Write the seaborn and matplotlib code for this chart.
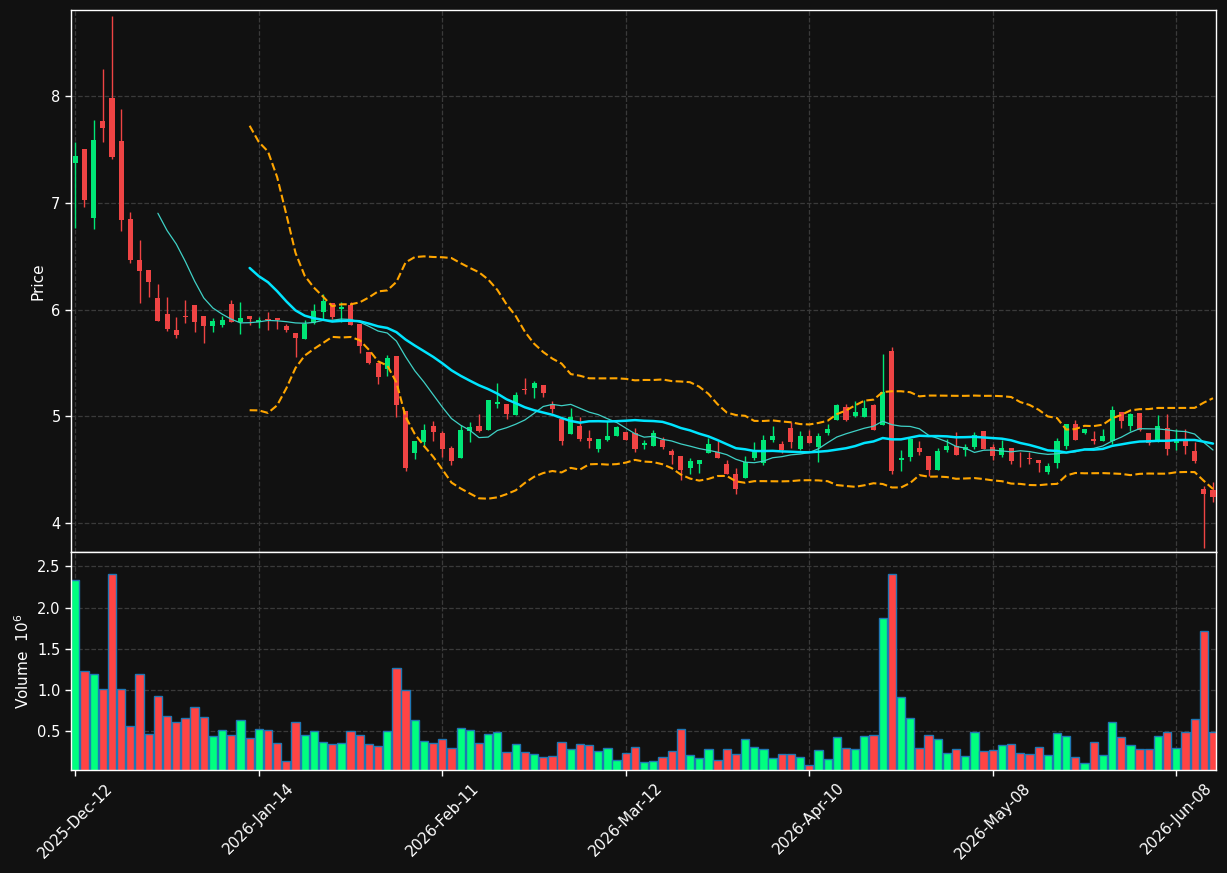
import numpy as np
import pandas as pd
import matplotlib
matplotlib.use("Agg")
import matplotlib.pyplot as plt
import seaborn as sns

# ---------------- data ----------------
opens = [7.378, 7.506, 6.863, 7.769, 7.984, 7.581, 6.85, 6.466, 6.372, 6.109,
         5.959, 5.809, 5.944, 6.044, 5.941, 5.85, 5.856, 6.053, 5.881, 5.941,
         5.88, 5.91, 5.919, 5.844, 5.778, 5.725, 5.878, 5.978, 6.066, 6.006,
         6.047, 5.869, 5.6, 5.497, 5.444, 5.563, 5.047, 4.656, 4.756, 4.906,
         4.841, 4.7, 4.613, 4.866, 4.909, 4.872, 5.119, 5.116, 5.013, 5.256,
         5.269, 5.294, 5.113, 4.972, 4.838, 4.909, 4.797, 4.697, 4.778, 4.819,
         4.853, 4.841, 4.731, 4.722, 4.781, 4.672, 4.625, 4.516, 4.553, 4.656,
         4.663, 4.556, 4.463, 4.422, 4.609, 4.563, 4.775, 4.744, 4.894, 4.697,
         4.813, 4.713, 4.844, 4.966, 5.084, 5.003, 4.991, 5.106, 4.919, 5.613,
         4.594, 4.619, 4.703, 4.628, 4.497, 4.684, 4.722, 4.684, 4.713, 4.863,
         4.709, 4.638, 4.7, 4.603, 4.609, 4.591, 4.48, 4.564, 4.723, 4.925,
         4.844, 4.791, 4.766, 4.766, 5.037, 4.91, 5.034, 4.847, 4.76, 4.894,
         4.751, 4.782, 4.673, 4.318, 4.308]
highs = [7.572, 7.506, 7.778, 8.253, 8.753, 7.878, 6.913, 6.653, 6.372, 6.238,
         6.119, 5.928, 6.088, 6.044, 5.941, 5.919, 5.941, 6.09, 6.069, 5.941,
         5.928, 5.981, 5.919, 5.869, 5.778, 5.9, 6.056, 6.15, 6.066, 6.075,
         6.072, 5.869, 5.6, 5.497, 5.578, 5.563, 5.047, 4.766, 4.931, 4.959,
         4.863, 4.722, 4.919, 4.947, 5.019, 5.153, 5.309, 5.116, 5.231, 5.356,
         5.331, 5.294, 5.147, 4.972, 5.075, 4.997, 4.872, 4.788, 4.956, 4.913,
         4.853, 4.888, 4.778, 4.875, 4.806, 4.697, 4.625, 4.613, 4.594, 4.8,
         4.769, 4.588, 4.519, 4.625, 4.759, 4.822, 4.906, 4.766, 4.947, 4.863,
         4.875, 4.847, 4.931, 5.119, 5.113, 5.144, 5.153, 5.113, 5.584, 5.653,
         4.684, 4.788, 4.769, 4.628, 4.7, 4.784, 4.853, 4.738, 4.853, 4.863,
         4.741, 4.775, 4.7, 4.663, 4.669, 4.591, 4.564, 4.8, 4.925, 4.963,
         4.885, 4.863, 4.885, 5.1, 5.037, 5.034, 5.034, 4.847, 5.016, 5.025,
         4.885, 4.885, 4.76, 4.346, 4.386]
lows = [6.769, 6.966, 6.76, 7.575, 7.416, 6.741, 6.434, 6.059, 6.116, 5.897,
        5.803, 5.731, 5.878, 5.794, 5.69, 5.794, 5.84, 5.888, 5.769, 5.856,
        5.825, 5.813, 5.822, 5.79, 5.556, 5.725, 5.869, 5.916, 5.916, 5.884,
        5.859, 5.597, 5.488, 5.306, 5.381, 4.994, 4.488, 4.6, 4.713, 4.769,
        4.619, 4.547, 4.613, 4.756, 4.85, 4.872, 5.081, 4.972, 5.013, 5.213,
        5.175, 5.178, 5.028, 4.734, 4.838, 4.772, 4.7, 4.663, 4.772, 4.819,
        4.778, 4.669, 4.691, 4.722, 4.697, 4.556, 4.406, 4.463, 4.469, 4.656,
        4.609, 4.456, 4.275, 4.422, 4.588, 4.547, 4.763, 4.656, 4.706, 4.681,
        4.75, 4.569, 4.828, 4.966, 4.956, 4.997, 4.991, 4.872, 4.919, 4.456,
        4.491, 4.578, 4.638, 4.44, 4.497, 4.669, 4.638, 4.631, 4.691, 4.694,
        4.591, 4.622, 4.553, 4.528, 4.55, 4.475, 4.455, 4.52, 4.698, 4.776,
        4.832, 4.745, 4.766, 4.745, 4.891, 4.863, 4.863, 4.735, 4.76, 4.642,
        4.688, 4.651, 4.564, 3.763, 4.2]
closes = [7.44, 7.028, 7.59, 7.706, 7.434, 6.844, 6.469, 6.366, 6.263, 5.897,
          5.822, 5.766, 5.934, 5.888, 5.85, 5.894, 5.903, 5.888, 5.919, 5.913,
          5.9, 5.9, 5.9, 5.806, 5.734, 5.863, 5.984, 6.078, 5.931, 6.025,
          5.859, 5.656, 5.497, 5.369, 5.55, 5.103, 4.516, 4.766, 4.869, 4.85,
          4.691, 4.578, 4.872, 4.897, 4.863, 5.153, 5.134, 5.022, 5.2, 5.25,
          5.309, 5.222, 5.069, 4.772, 4.99, 4.788, 4.772, 4.788, 4.816, 4.9,
          4.778, 4.694, 4.75, 4.844, 4.713, 4.634, 4.494, 4.581, 4.588, 4.738,
          4.609, 4.456, 4.316, 4.572, 4.663, 4.781, 4.813, 4.681, 4.759, 4.813,
          4.75, 4.813, 4.884, 5.103, 4.966, 5.041, 5.075, 4.872, 5.225, 4.488,
          4.609, 4.788, 4.666, 4.497, 4.675, 4.722, 4.638, 4.709, 4.822, 4.694,
          4.631, 4.7, 4.584, 4.597, 4.597, 4.566, 4.533, 4.766, 4.925, 4.776,
          4.885, 4.766, 4.813, 5.056, 4.956, 5.025, 4.875, 4.751, 4.913, 4.695,
          4.766, 4.723, 4.579, 4.271, 4.246]
volumes = [2.34, 1.226, 1.19, 1.008, 2.41, 1.008, 0.56, 1.19, 0.464, 0.923,
           0.68, 0.61, 0.657, 0.80, 0.67, 0.44, 0.51, 0.45, 0.633, 0.415,
           0.524, 0.51, 0.355, 0.137, 0.61, 0.45, 0.50, 0.367, 0.343, 0.355,
           0.50, 0.45, 0.343, 0.319, 0.50, 1.262, 0.996, 0.633, 0.379, 0.355,
           0.403, 0.294, 0.536, 0.512, 0.355, 0.464, 0.488, 0.246, 0.343, 0.246,
           0.222, 0.185, 0.198, 0.367, 0.282, 0.343, 0.331, 0.258, 0.294, 0.149,
           0.234, 0.306, 0.125, 0.137, 0.185, 0.258, 0.524, 0.21, 0.173, 0.282,
           0.149, 0.282, 0.222, 0.403, 0.306, 0.282, 0.173, 0.222, 0.222, 0.185,
           0.089, 0.27, 0.161, 0.427, 0.294, 0.282, 0.44, 0.452, 1.879, 2.41,
           0.911, 0.657, 0.294, 0.452, 0.403, 0.234, 0.282, 0.198, 0.488, 0.258,
           0.27, 0.331, 0.343, 0.234, 0.222, 0.306, 0.21, 0.476, 0.44, 0.185,
           0.113, 0.367, 0.21, 0.609, 0.427, 0.331, 0.282, 0.282, 0.44, 0.488,
           0.294, 0.488, 0.645, 1.722, 0.488]  # in millions
tick_labels = ["2025-Dec-12", "2026-Jan-14", "2026-Feb-11", "2026-Mar-12",
               "2026-Apr-10", "2026-May-08", "2026-Jun-08"]

# ---------------- style ----------------
BG = "#111111"
GRID = "#3a3a3a"
sns.set_theme(style="dark", rc={
    "axes.facecolor": BG, "figure.facecolor": BG,
    "axes.edgecolor": "white", "axes.labelcolor": "white",
    "xtick.color": "white", "ytick.color": "white", "text.color": "white",
    "xtick.bottom": True, "ytick.left": True,
    "axes.linewidth": 1.0,
})
plt.rcParams["font.family"] = ["DejaVu Sans"]
plt.rcParams["font.size"] = 10

UP_C, DN_C = "#00e676", "#ef4444"
VUP_C, VDN_C = "#00ff7f", "#ff4444"

df = pd.DataFrame({"idx": np.arange(len(closes)), "open": opens, "high": highs,
                   "low": lows, "close": closes, "vol": volumes})
df["up"] = df["close"] >= df["open"]
df["ma10"] = df["close"].rolling(10).mean()
df["ma20"] = df["close"].rolling(20).mean()
sd = df["close"].rolling(20).std(ddof=0)
df["bb_up"] = df["ma20"] + 2 * sd
df["bb_lo"] = df["ma20"] - 2 * sd
df["dir"] = np.where(df["up"], "up", "down")

fig = plt.figure(figsize=(12.27, 8.73), dpi=100)
ax = fig.add_axes([0.05787, 0.3677, 0.9334, 0.6203])
axv = fig.add_axes([0.05787, 0.11798, 0.9334, 0.2497])

XL = (-0.47, 124.36)

# ---------------- candles ----------------
cols = np.where(df["up"], UP_C, DN_C)
ax.vlines(df["idx"], df["low"], df["high"], colors=cols, linewidth=1.0, zorder=2)
body_lo = np.minimum(df["open"], df["close"])
body_h = np.maximum(np.abs(df["close"] - df["open"]), 0.006)
ax.bar(df["idx"], body_h, bottom=body_lo, width=0.55, color=cols,
       linewidth=0, zorder=3)

# ---------------- moving averages & bands ----------------
sns.lineplot(data=df, x="idx", y="ma10", ax=ax, color="#3fd1c6",
             linewidth=0.9, zorder=4)
sns.lineplot(data=df, x="idx", y="ma20", ax=ax, color="#00e5ff",
             linewidth=1.8, zorder=5)
sns.lineplot(data=df, x="idx", y="bb_up", ax=ax, color="#ffa500",
             linewidth=1.5, linestyle="--", zorder=4)
sns.lineplot(data=df, x="idx", y="bb_lo", ax=ax, color="#ffa500",
             linewidth=1.5, linestyle="--", zorder=4)

ax.set_xlim(*XL)
ax.set_ylim(3.728, 8.805)
ax.set_yticks([4, 5, 6, 7, 8])
ax.set_xticks(np.arange(0, len(closes), 20))
ax.tick_params(axis="x", labelbottom=False, bottom=False)
ax.set_xlabel("")
ax.set_ylabel("Price", color="white", fontsize=11)
ax.grid(True, linestyle="--", color=GRID, linewidth=0.9)
ax.set_axisbelow(True)

# ---------------- volume ----------------
sns.barplot(data=df, x="idx", y="vol", hue="dir",
            palette={"up": VUP_C, "down": VDN_C}, dodge=False, width=0.9,
            edgecolor="#1f77b4", linewidth=1.0, saturation=1, legend=False,
            errorbar=None, ax=axv)
axv.set_xlim(*XL)
axv.set_ylim(0.031, 2.674)
axv.set_yticks([0.5, 1.0, 1.5, 2.0, 2.5])
axv.set_xticks(np.arange(0, len(closes), 20))
axv.set_xticklabels(tick_labels, rotation=45)
axv.set_xlabel("")
axv.set_ylabel("Volume  $10^6$", color="white", fontsize=11)
axv.grid(True, linestyle="--", color=GRID, linewidth=0.9)
axv.set_axisbelow(True)

for a in (ax, axv):
    for s in a.spines.values():
        s.set_color("white")
        s.set_linewidth(1.0)
    a.tick_params(colors="white", labelsize=10.5, length=4, width=1)
axv.tick_params(axis="x", labelsize=11)

fig.savefig("out.png", dpi=100, facecolor=BG)
